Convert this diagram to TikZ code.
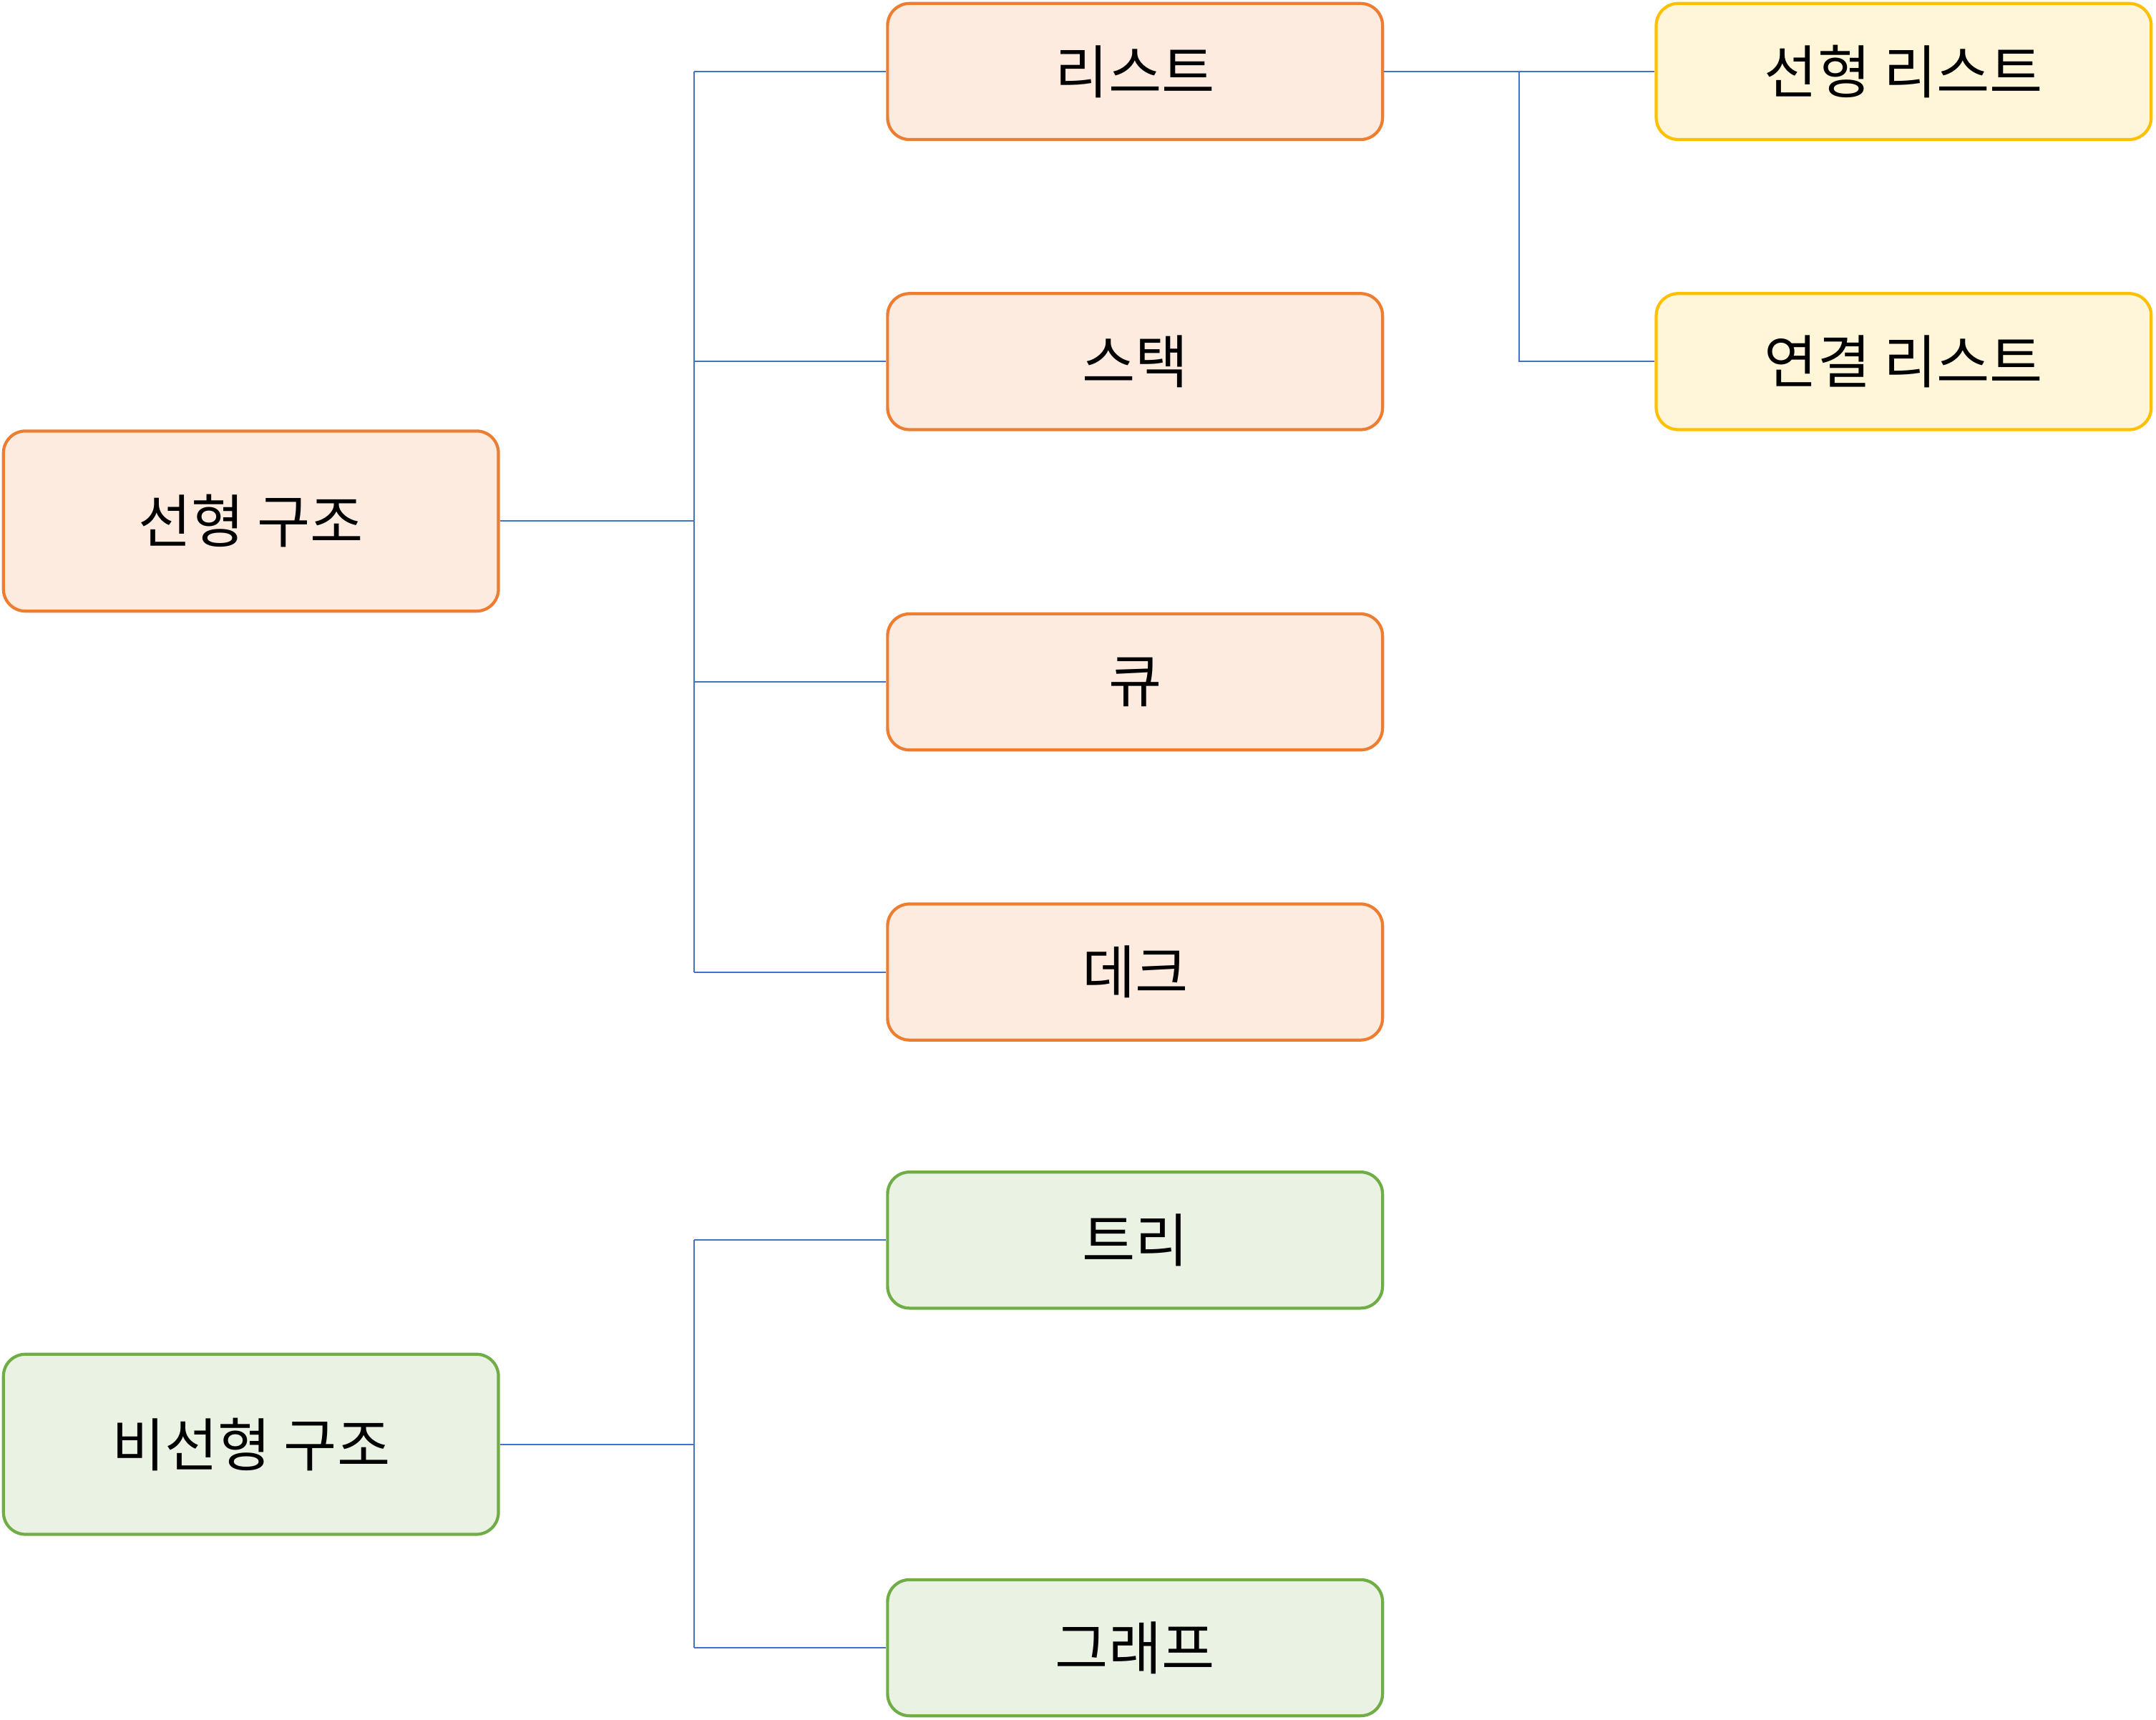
\documentclass[tikz,border=0pt]{standalone}
\usepackage{fontspec}
\newfontfamily\kr{Noto Sans CJK KR}
\definecolor{ostroke}{HTML}{ED7D31}
\definecolor{ofill}{HTML}{FCEBDE}
\definecolor{gstroke}{HTML}{70AD47}
\definecolor{gfill}{HTML}{EAF2E3}
\definecolor{ystroke}{HTML}{FFC000}
\definecolor{yfill}{HTML}{FFF5D8}
\definecolor{lblue}{HTML}{4472C4}
\tikzset{
  box/.style={draw, rounded corners=16pt, line width=2.2pt, minimum width=360pt,
    minimum height=99pt, inner sep=0pt, font=\kr\fontsize{42}{50}\selectfont},
  bigbox/.style={box, minimum height=131pt},
  obox/.style={draw=ostroke, fill=ofill},
  gbox/.style={draw=gstroke, fill=gfill},
  ybox/.style={draw=ystroke, fill=yfill},
  conn/.style={draw=lblue, line width=1.1pt}
}
\begin{document}
\begin{tikzpicture}[x=1pt,y=1pt]
\useasboundingbox (0,0) rectangle (1568,-1251);
\node[bigbox,obox] (A) at (182.5,-379) {선형 구조};
\node[bigbox,gbox] (B) at (182.5,-1050.5) {비선형 구조};
\node[box,obox] (L1) at (825.5,-52) {리스트};
\node[box,obox] (L2) at (825.5,-263) {스택};
\node[box,obox] (L3) at (825.5,-496) {큐};
\node[box,obox] (L4) at (825.5,-707) {데크};
\node[box,gbox] (N1) at (825.5,-902) {트리};
\node[box,gbox] (N2) at (825.5,-1198.5) {그래프};
\node[box,ybox] (R1) at (1384.5,-52) {선형 리스트};
\node[box,ybox] (R2) at (1384.5,-263) {연결 리스트};
\coordinate (tr) at (505,0);
\coordinate (tr2) at (1105,0);
\draw[conn] (A.east) -- (A.east -| tr);
\draw[conn] (L1.west -| tr) -- (L4.west -| tr);
\foreach \n in {L1,L2,L3,L4} \draw[conn] (\n.west -| tr) -- (\n.west);
\draw[conn] (B.east) -- (B.east -| tr);
\draw[conn] (N1.west -| tr) -- (N2.west -| tr);
\foreach \n in {N1,N2} \draw[conn] (\n.west -| tr) -- (\n.west);
\draw[conn] (L1.east) -- (R1.west);
\draw[conn] (L1.east -| tr2) -- (R2.west -| tr2) -- (R2.west);
\end{tikzpicture}
\end{document}
